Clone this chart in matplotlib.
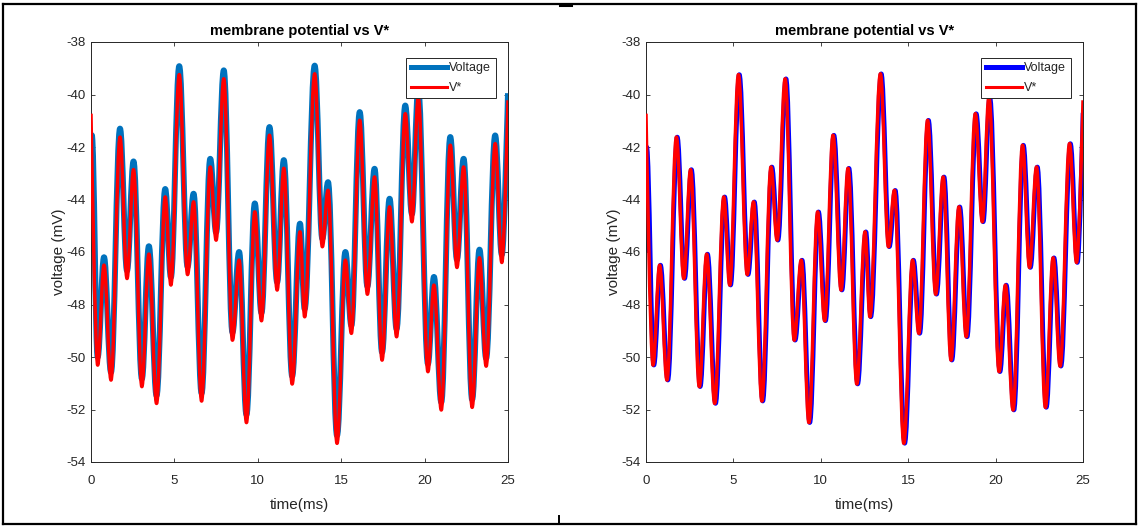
import matplotlib
matplotlib.use("Agg")
import matplotlib.pyplot as plt
from matplotlib import font_manager as fm
from matplotlib.path import Path
from matplotlib.patches import PathPatch
from matplotlib.lines import Line2D

# ---------------- data ----------------
# V* curve: start point, successive extrema, end point  (time in ms, mV)
t_vstar = [0, 0.40, 0.78, 1.20, 1.74, 2.16, 2.55, 3.05, 3.47, 3.93,
           4.45, 4.79, 5.29, 5.79, 6.15, 6.63, 7.15, 7.50, 7.96, 8.48,
           8.88, 9.32, 9.82, 10.22, 10.70, 11.16, 11.56, 12.06, 12.53, 12.81,
           13.41, 13.87, 14.21, 14.75, 15.25, 15.61, 16.11, 16.57, 17.00, 17.45,
           17.90, 18.32, 18.84, 19.24, 19.62, 20.20, 20.56, 21.00, 21.54, 21.94,
           22.34, 22.85, 23.29, 23.69, 24.23, 24.63, 25.0]
v_vstar = [-40.73, -50.31, -46.50, -50.88, -41.62, -47.01, -42.86, -51.13, -46.08, -51.77,
           -43.90, -47.26, -39.24, -46.86, -44.09, -51.68, -42.76, -45.55, -39.40, -49.36,
           -46.31, -52.50, -44.47, -48.62, -41.55, -47.45, -42.81, -51.03, -45.23, -48.47,
           -39.21, -45.80, -43.65, -53.29, -46.31, -49.10, -40.98, -47.61, -43.14, -50.12,
           -44.28, -49.23, -40.73, -44.85, -40.10, -50.56, -47.26, -52.02, -41.93, -46.59,
           -42.76, -51.92, -46.22, -50.35, -41.87, -46.40, -40.22]

# Voltage, left panel
t_volt_left = [0, 0.05, 0.40, 0.78, 1.20, 1.74, 2.16, 2.55, 3.05, 3.47, 3.93,
               4.45, 4.79, 5.29, 5.79, 6.15, 6.63, 7.15, 7.50, 7.96, 8.48,
               8.88, 9.32, 9.82, 10.22, 10.70, 11.16, 11.56, 12.06, 12.53, 12.81,
               13.41, 13.87, 14.21, 14.75, 15.25, 15.61, 16.11, 16.57, 17.00, 17.45,
               17.90, 18.32, 18.84, 19.24, 19.62, 20.20, 20.56, 21.00, 21.54, 21.94,
               22.34, 22.85, 23.29, 23.69, 24.23, 24.63, 25.0]
v_volt_left = [-46.00, -41.55, -50.00, -46.20, -50.58, -41.30, -46.71, -42.55, -50.83, -45.78, -51.47,
               -43.60, -46.96, -38.92, -46.56, -43.78, -51.38, -42.45, -45.25, -39.08, -49.06,
               -46.00, -52.20, -44.15, -48.32, -41.24, -47.15, -42.50, -50.73, -44.92, -48.17,
               -38.90, -45.50, -43.34, -52.99, -46.00, -48.80, -40.67, -47.31, -42.83, -49.82,
               -43.97, -48.93, -40.42, -44.55, -39.80, -50.26, -46.95, -51.72, -41.62, -46.29,
               -42.45, -51.62, -45.91, -50.05, -41.56, -46.10, -39.95]

# Voltage, right panel
t_volt_right = [0, 0.04, 0.45, 0.83, 1.25, 1.79, 2.21, 2.60, 3.10, 3.52, 3.98,
                4.50, 4.84, 5.34, 5.84, 6.20, 6.68, 7.20, 7.55, 8.01, 8.53,
                8.93, 9.37, 9.87, 10.27, 10.75, 11.21, 11.61, 12.11, 12.58, 12.86,
                13.46, 13.92, 14.26, 14.80, 15.30, 15.66, 16.16, 16.62, 17.05, 17.50,
                17.95, 18.37, 18.89, 19.29, 19.67, 20.25, 20.61, 21.05, 21.59, 21.99,
                22.39, 22.90, 23.34, 23.74, 24.28, 24.68, 25.0]
v_volt_right = [-46.00, -42.00, -50.31, -46.50, -50.88, -41.62, -47.01, -42.86, -51.13, -46.08, -51.77,
                -43.90, -47.26, -39.24, -46.86, -44.09, -51.68, -42.76, -45.55, -39.40, -49.36,
                -46.31, -52.50, -44.47, -48.62, -41.55, -47.45, -42.81, -51.03, -45.23, -48.47,
                -39.21, -45.80, -43.65, -53.29, -46.31, -49.10, -40.98, -47.61, -43.14, -50.12,
                -44.28, -49.23, -40.73, -44.85, -40.10, -50.56, -47.26, -52.02, -41.93, -46.59,
                -42.76, -51.92, -46.22, -50.35, -41.87, -46.40, -40.70]

x_ticks = [0, 5, 10, 15, 20, 25]
y_ticks = [-54, -52, -50, -48, -46, -44, -42, -40, -38]
title_text = "membrane potential vs V*"
xlabel_text = "time(ms)"
ylabel_text = "voltage (mV)"
legend_labels = ["Voltage", "V*"]


# ---------------- fonts ----------------
def pick(names):
    for n in names:
        try:
            fm.findfont(fm.FontProperties(family=n), fallback_to_default=False)
            return n
        except Exception:
            pass
    return "DejaVu Sans"

narrow = pick(["Liberation Sans Narrow", "Liberation Sans", "DejaVu Sans"])
regular = pick(["Liberation Sans", "DejaVu Sans"])
is_narrow = narrow == "Liberation Sans Narrow"

AX_COL = "#262626"


def smooth_path(ts, vs, k=0.363):
    """Cubic Bezier path through the extrema, flat tangents at the extrema."""
    verts = [(ts[0], vs[0])]
    codes = [Path.MOVETO]
    n = len(ts)
    for i in range(n - 1):
        t0, v0, t1, v1 = ts[i], vs[i], ts[i + 1], vs[i + 1]
        dt = t1 - t0
        c1 = (t0, v0) if i == 0 else (t0 + k * dt, v0)
        c2 = (t1, v1) if i == n - 2 else (t1 - k * dt, v1)
        verts += [c1, c2, (t1, v1)]
        codes += [Path.CURVE4] * 3
    return Path(verts, codes)


fig = plt.figure(figsize=(11.4, 5.28), dpi=100)
W, H = 1140, 528

panels = [
    dict(rect=(91, 42, 508, 462), tv=t_volt_left, vv=v_volt_left,
         vcol="#0072BD", vlw=4.3, leg_lw=3.6),
    dict(rect=(646, 42, 1083, 462), tv=t_volt_right, vv=v_volt_right,
         vcol="#0000FF", vlw=3.3, leg_lw=3.6),
]

fs_title = 11.5 if is_narrow else 10.5
fs_tick = 10 if is_narrow else 9.5
fs_leg = 10 if is_narrow else 9

for p in panels:
    x0, y0, x1, y1 = p["rect"]
    ax = fig.add_axes([x0 / W, 1 - y1 / H, (x1 - x0) / W, (y1 - y0) / H])
    ax.set_xlim(0, 25)
    ax.set_ylim(-54, -38)

    ax.add_patch(PathPatch(smooth_path(p["tv"], p["vv"]), fill=False,
                           edgecolor=p["vcol"], lw=p["vlw"],
                           capstyle="butt", joinstyle="round", zorder=2))
    ax.add_patch(PathPatch(smooth_path(t_vstar, v_vstar), fill=False,
                           edgecolor="#FF0000", lw=2.5,
                           capstyle="butt", joinstyle="round", zorder=3))

    ax.set_xticks(x_ticks)
    ax.set_yticks(y_ticks)
    ax.set_xticklabels([str(v) for v in x_ticks], fontfamily=narrow, fontsize=fs_tick)
    ax.set_yticklabels([str(v) for v in y_ticks], fontfamily=narrow, fontsize=fs_tick)
    ax.tick_params(axis="both", direction="in", top=True, right=True,
                   length=3, width=0.6, color=AX_COL, labelcolor=AX_COL)
    ax.tick_params(axis="x", pad=9)
    ax.tick_params(axis="y", pad=4)
    for s in ax.spines.values():
        s.set_color(AX_COL)
        s.set_linewidth(0.7)

    ax.set_title(title_text, fontfamily=narrow, fontweight="bold",
                 fontsize=fs_title, color="black", pad=5)
    ax.set_xlabel(xlabel_text, fontfamily=narrow, fontsize=11,
                  color=AX_COL, labelpad=8)
    ax.set_ylabel(ylabel_text, fontfamily=regular, fontsize=11,
                  color=AX_COL, labelpad=0)

    handles = [Line2D([], [], color=p["vcol"], lw=p["leg_lw"]),
               Line2D([], [], color="#FF0000", lw=2.2)]
    bx = 1 - 12.5 / (x1 - x0)
    by = 1 - 16 / (y1 - y0)
    leg = ax.legend(handles, legend_labels, loc="upper right",
                    bbox_to_anchor=(bx, by), borderaxespad=0,
                    prop=dict(family=narrow, size=fs_leg),
                    handlelength=2.9, handletextpad=0.2, borderpad=0.35,
                    labelspacing=0.6, fancybox=False, framealpha=1,
                    edgecolor=AX_COL)
    leg.get_frame().set_linewidth(0.7)
    for t in leg.get_texts():
        t.set_color(AX_COL)

# outer frame of the picture
def fline(xs, ys, lw=1.6):
    fig.add_artist(Line2D([x / W for x in xs], [1 - y / H for y in ys],
                          color="black", lw=lw, transform=fig.transFigure))

fline([3, 3], [4, 524])
fline([3, 1136], [4, 4])
fline([1136, 1136], [4, 524])
fline([3, 1136], [524, 524])
fline([559, 559], [516, 524], lw=1.4)
fline([560, 571], [5, 5], lw=2.2)

fig.savefig("out.png", dpi=100)
